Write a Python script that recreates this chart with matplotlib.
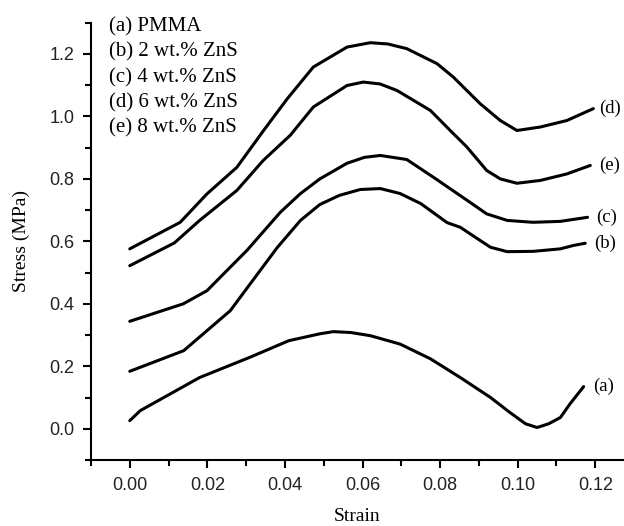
import numpy as np
import matplotlib.pyplot as plt
from matplotlib.ticker import MultipleLocator, FormatStrFormatter

# strain / stress values
strain_a = [0.0, 0.0027, 0.018, 0.031, 0.041, 0.049, 0.0525, 0.057, 0.062, 0.0697, 0.0775,
            0.0852, 0.093, 0.098, 0.102, 0.105, 0.108, 0.111, 0.1135, 0.117]
stress_a = [0.026, 0.058, 0.164, 0.229, 0.282, 0.304, 0.311, 0.308, 0.298, 0.271, 0.224,
            0.164, 0.10, 0.052, 0.016, 0.004, 0.016, 0.036, 0.08, 0.135]

strain_b = [0.0, 0.0139, 0.0259, 0.038, 0.044, 0.049, 0.054, 0.0594, 0.0646, 0.0697,
            0.075, 0.0818, 0.0852, 0.0903, 0.093, 0.0973, 0.104, 0.111, 0.1144, 0.1174]
stress_b = [0.184, 0.25, 0.378, 0.58, 0.667, 0.718, 0.747, 0.766, 0.769, 0.753,
            0.721, 0.66, 0.645, 0.603, 0.581, 0.567, 0.568, 0.576, 0.587, 0.594]

strain_c = [0.0, 0.0138, 0.0199, 0.025, 0.0302, 0.0388, 0.044, 0.049, 0.056, 0.0605, 0.0646,
            0.0714, 0.0783, 0.087, 0.092, 0.0973, 0.104, 0.111, 0.118]
stress_c = [0.344, 0.40, 0.442, 0.506, 0.571, 0.693, 0.753, 0.800, 0.850, 0.869, 0.875,
            0.862, 0.805, 0.731, 0.688, 0.667, 0.661, 0.664, 0.677]

strain_d = [0.0, 0.013, 0.0199, 0.0276, 0.0345, 0.0405, 0.0473, 0.056, 0.062, 0.0665, 0.0714,
            0.0792, 0.0834, 0.0903, 0.0955, 0.0998, 0.1058, 0.1127, 0.1195]
stress_d = [0.576, 0.661, 0.752, 0.837, 0.955, 1.055, 1.158, 1.222, 1.236, 1.232, 1.217,
            1.169, 1.126, 1.041, 0.987, 0.955, 0.966, 0.987, 1.025]

strain_e = [0.0, 0.0115, 0.018, 0.0276, 0.0344, 0.0414, 0.0473, 0.056, 0.0602, 0.0645, 0.0689,
            0.0775, 0.0826, 0.0869, 0.092, 0.0955, 0.0998, 0.1058, 0.1127, 0.1187]
stress_e = [0.522, 0.595, 0.667, 0.763, 0.859, 0.94, 1.03, 1.099, 1.11, 1.104, 1.083,
            1.019, 0.955, 0.902, 0.827, 0.80, 0.786, 0.795, 0.816, 0.843]

series = [("(a)", strain_a, stress_a), ("(b)", strain_b, stress_b), ("(c)", strain_c, stress_c),
          ("(d)", strain_d, stress_d), ("(e)", strain_e, stress_e)]
label_gap = [0.0025, 0.0022, 0.0022, 0.0014, 0.0022]
legend_lines = ["(a) PMMA", "(b) 2 wt.% ZnS", "(c) 4 wt.% ZnS", "(d) 6 wt.% ZnS", "(e) 8 wt.% ZnS"]

serif = "Liberation Serif"
sans = "Liberation Sans"

fig = plt.figure(figsize=(6.24, 5.26), dpi=100)
ax = fig.add_axes([0.1458, 0.1255, 0.8542, 0.8313])

for (name, x, y), gap in zip(series, label_gap):
    ax.plot(x, y, color="black", lw=2.2, solid_capstyle="round", solid_joinstyle="round")
    ax.text(x[-1] + gap, y[-1], name, fontsize=13.5, family=serif, va="center", ha="left",
            clip_on=False)

for i, s in enumerate(legend_lines):
    ax.text(0.033, 0.99 - i * 0.0575, s, transform=ax.transAxes, fontsize=15, family=serif,
            va="center", ha="left")

ax.set_xlim(-0.01, 0.1274)
ax.set_ylim(-0.1, 1.3)
ax.xaxis.set_major_locator(MultipleLocator(0.02))
ax.xaxis.set_minor_locator(MultipleLocator(0.01))
ax.yaxis.set_major_locator(MultipleLocator(0.2))
ax.yaxis.set_minor_locator(MultipleLocator(0.1))
ax.xaxis.set_major_formatter(FormatStrFormatter("%.2f"))
ax.yaxis.set_major_formatter(FormatStrFormatter("%.1f"))

ax.spines["top"].set_visible(False)
ax.spines["right"].set_visible(False)
for sp in ("left", "bottom"):
    ax.spines[sp].set_linewidth(1.5)
ax.tick_params(which="major", direction="out", length=6, width=1.5, labelsize=13, pad=6)
ax.tick_params(which="minor", direction="out", length=4, width=1.5)
for lab in ax.get_xticklabels() + ax.get_yticklabels():
    lab.set_family(sans)
    lab.set_color("#222222")

ax.set_xlabel("Strain", family=serif, fontsize=14, labelpad=10)
ax.set_ylabel("Stress (MPa)", family=serif, fontsize=14, labelpad=14)

fig.savefig("out.png", dpi=100)
